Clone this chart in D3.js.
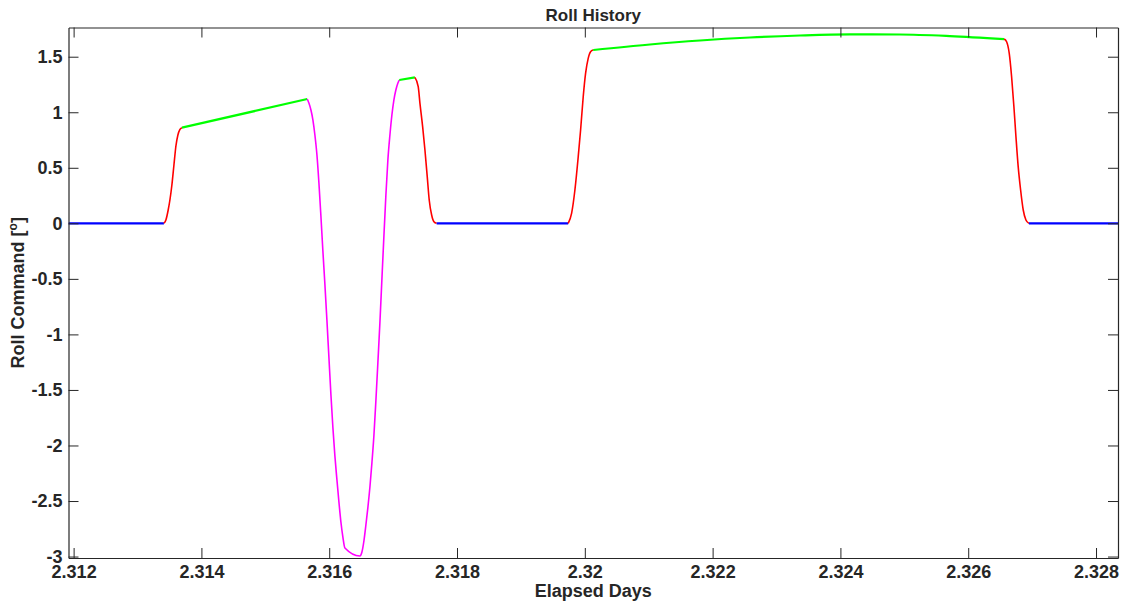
<!DOCTYPE html>
<html>
<head>
<meta charset="utf-8">
<script src="https://cdn.jsdelivr.net/npm/d3@7"></script>
<style>
  html, body { margin: 0; padding: 0; background: #fff; }
  svg { display: block; }
  text { font-family: "Liberation Sans", Arial, Helvetica, sans-serif; font-weight: bold; fill: #262626; }
</style>
</head>
<body>
<svg id="chart" width="1124" height="606"></svg>
<script>
// ---- data (Elapsed Days, Roll Command in degrees) ----
const xTicks = [2.312, 2.314, 2.316, 2.318, 2.32, 2.322, 2.324, 2.326, 2.328];
const xTickLabels = ["2.312", "2.314", "2.316", "2.318", "2.32", "2.322", "2.324", "2.326", "2.328"];
const yTicks = [-3, -2.5, -2, -1.5, -1, -0.5, 0, 0.5, 1, 1.5];
const yTickLabels = ["-3", "-2.5", "-2", "-1.5", "-1", "-0.5", "0", "0.5", "1", "1.5"];

const blue1 = [[2.31192, 0], [2.313413, 0]];
const red1 = [[2.313413, 0], [2.313444, 0.03], [2.313480, 0.12], [2.313507, 0.21], [2.313538, 0.345],
              [2.313570, 0.525], [2.313601, 0.696], [2.313632, 0.795], [2.313664, 0.845], [2.313695, 0.861]];
const green1 = [[2.313695, 0.861], [2.315656, 1.119]];
const magenta1 = [[2.315656, 1.119], [2.315682, 1.083], [2.315714, 1.020], [2.315745, 0.930], [2.315776, 0.795],
                  [2.315808, 0.615], [2.315839, 0.363], [2.315870, 0.066], [2.315901, -0.249], [2.315933, -0.555],
                  [2.315964, -0.871], [2.315995, -1.204], [2.316027, -1.546], [2.316058, -1.843], [2.316089, -2.095],
                  [2.316121, -2.311], [2.316152, -2.509], [2.316183, -2.689], [2.316214, -2.824], [2.316246, -2.923],
                  [2.316480, -2.995], [2.316512, -2.959], [2.316543, -2.860], [2.316574, -2.716], [2.316606, -2.554],
                  [2.316637, -2.374], [2.316668, -2.158], [2.316699, -1.915], [2.316731, -1.591], [2.316762, -1.249],
                  [2.316793, -0.898], [2.316824, -0.510], [2.316856, -0.114], [2.316887, 0.255], [2.316918, 0.570],
                  [2.316950, 0.795], [2.316981, 0.975], [2.317012, 1.110], [2.317043, 1.200], [2.317075, 1.263],
                  [2.317096, 1.290]];
const green2 = [[2.317096, 1.290], [2.317341, 1.314]];
const red2 = [[2.317341, 1.314], [2.317393, 1.230], [2.317420, 1.080], [2.317462, 0.870], [2.317498, 0.660],
              [2.317534, 0.420], [2.317565, 0.210], [2.317603, 0.075], [2.317639, 0.015], [2.317681, 0]];
const blue2 = [[2.317681, 0], [2.319740, 0]];
const red3 = [[2.319740, 0], [2.319793, 0.09], [2.319845, 0.30], [2.319897, 0.60], [2.319934, 0.84],
              [2.319975, 1.14], [2.320012, 1.35], [2.320053, 1.485], [2.320090, 1.545], [2.320131, 1.560]];
const green3 = [[2.320131, 1.560], [2.321019, 1.610], [2.321802, 1.646], [2.322584, 1.673], [2.323366, 1.691],
                [2.324149, 1.701], [2.324931, 1.700], [2.325714, 1.686], [2.326563, 1.659]];
const red4 = [[2.326563, 1.659], [2.326601, 1.635], [2.326642, 1.530], [2.326679, 1.320], [2.326715, 1.050],
              [2.326747, 0.780], [2.326782, 0.510], [2.326820, 0.300], [2.326861, 0.120], [2.326903, 0.030],
              [2.326950, 0]];
const blue3 = [[2.326950, 0], [2.328344, 0]];

const segments = [
  { data: blue1, color: "#0000ff", w: 2.2 },
  { data: red1, color: "#ff0000", w: 1.6 },
  { data: green1, color: "#00ff00", w: 2.2 },
  { data: magenta1, color: "#ff00ff", w: 1.6 },
  { data: green2, color: "#00ff00", w: 2.2 },
  { data: red2, color: "#ff0000", w: 1.6 },
  { data: blue2, color: "#0000ff", w: 2.2 },
  { data: red3, color: "#ff0000", w: 1.6 },
  { data: green3, color: "#00ff00", w: 2.2 },
  { data: red4, color: "#ff0000", w: 1.6 },
  { data: blue3, color: "#0000ff", w: 2.2 }
];

// ---- layout ----
const L = 68.5, R = 1118, T = 27.5, B = 558;
const svg = d3.select("#chart");
const x = d3.scaleLinear().domain([2.31192, 2.328344]).range([L, R]);
const y = d3.scaleLinear().domain([-3.013, 1.763]).range([B, T]);

const clipId = "plotclip";
svg.append("defs").append("clipPath").attr("id", clipId)
  .append("rect").attr("x", L).attr("y", T).attr("width", R - L).attr("height", B - T);

// lines
const line = d3.line().x(d => x(d[0])).y(d => y(d[1])).curve(d3.curveMonotoneX);
const plot = svg.append("g").attr("clip-path", `url(#${clipId})`);
segments.forEach(s => {
  plot.append("path").datum(s.data)
    .attr("d", line)
    .attr("fill", "none")
    .attr("stroke", s.color)
    .attr("stroke-width", s.w)
    .attr("stroke-linejoin", "round");
});

// axes (MATLAB-style box with inward ticks)
const tickLen = 10;
const axisColor = "#262626";
const axBottom = d3.axisBottom(x).tickValues(xTicks).tickFormat((d, i) => xTickLabels[i])
  .tickSizeInner(-tickLen).tickSizeOuter(0).tickPadding(7);
const axTop = d3.axisTop(x).tickValues(xTicks).tickFormat("").tickSizeInner(-tickLen).tickSizeOuter(0);
const axLeft = d3.axisLeft(y).tickValues(yTicks).tickFormat((d, i) => yTickLabels[i])
  .tickSizeInner(-tickLen).tickSizeOuter(0).tickPadding(6);
const axRight = d3.axisRight(y).tickValues(yTicks).tickFormat("").tickSizeInner(-tickLen).tickSizeOuter(0);

function style(g) {
  g.selectAll("path.domain").attr("stroke", axisColor).attr("stroke-width", 1.2);
  g.selectAll(".tick line").attr("stroke", axisColor).attr("stroke-width", 1);
  g.selectAll(".tick text").attr("font-size", 18).attr("font-weight", "bold")
    .attr("font-family", '"Liberation Sans", Arial, sans-serif').attr("fill", axisColor);
}
svg.append("g").attr("transform", `translate(0,${B})`).call(axBottom).call(style);
svg.append("g").attr("transform", `translate(0,${T})`).call(axTop).call(style);
svg.append("g").attr("transform", `translate(${L},0)`).call(axLeft).call(style);
svg.append("g").attr("transform", `translate(${R},0)`).call(axRight).call(style);

// titles
svg.append("text").attr("x", (L + R) / 2).attr("y", 21).attr("text-anchor", "middle")
  .attr("font-size", 17).attr("fill", "#000").text("Roll History");
svg.append("text").attr("x", (L + R) / 2).attr("y", 597).attr("text-anchor", "middle")
  .attr("font-size", 18).text("Elapsed Days");
const yl = svg.append("text").attr("transform", `translate(24,${(T + B) / 2}) rotate(-90)`)
  .attr("text-anchor", "middle").attr("font-size", 18);
yl.append("tspan").text("Roll Command [");
yl.append("tspan").attr("font-size", 12).attr("dy", -7).text("o");
yl.append("tspan").attr("dy", 7).text("]");
</script>
</body>
</html>
